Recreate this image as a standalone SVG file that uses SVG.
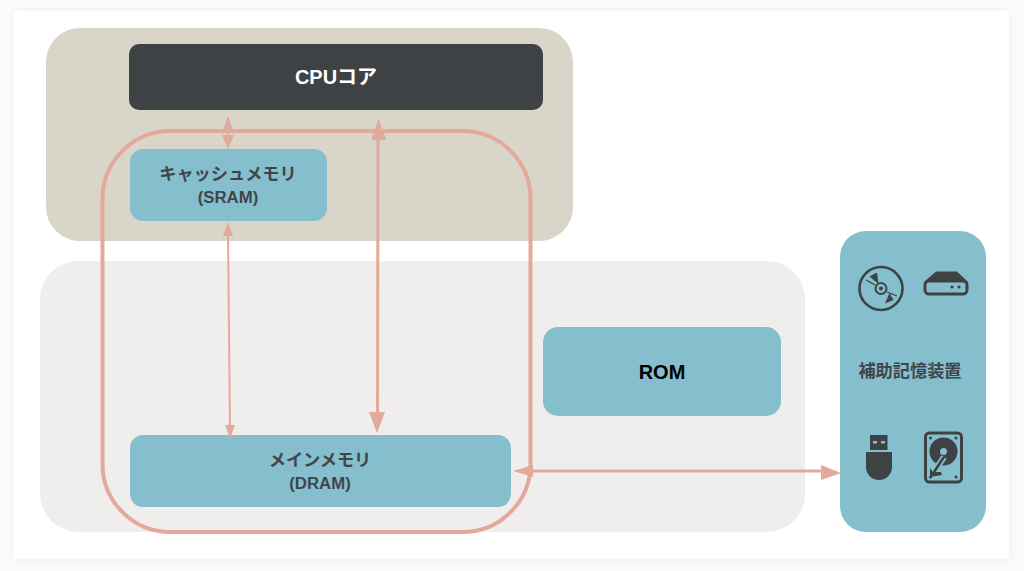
<svg xmlns="http://www.w3.org/2000/svg" width="1024" height="571" viewBox="0 0 1024 571">
<defs>
<filter id="sh" x="-5%" y="-5%" width="110%" height="110%"><feGaussianBlur stdDeviation="3"/></filter>
</defs>
<style>
.n{fill:#85bfcd}
.t{font-family:"Liberation Sans","Noto Sans CJK JP",sans-serif;font-weight:700;text-anchor:middle;fill:#414549}
.c{stroke:#e3a99c;fill:none}
.h{fill:#e3a99c}
.i{fill:#3e4245}
.is{fill:none;stroke:#3e4245}
</style>
<rect width="1024" height="571" fill="#fafafa"/>
<rect x="14" y="11" width="995" height="548" fill="#eeeeee" filter="url(#sh)"/>
<rect x="14" y="11" width="995" height="548" fill="#ffffff"/>
<g id="cpu-area"><rect x="46" y="28" width="527" height="213" rx="34" fill="#d9d5c9"/></g>
<g id="memory-area"><rect x="40" y="261" width="765" height="271" rx="38" fill="#f0eeec"/></g>
<g id="cpu"><rect x="129" y="44" width="414" height="66" rx="10" fill="#3e4245"/>
<text class="t" x="336" y="84" font-size="20" style="fill:#fff">CPUコア</text></g>
<g id="sram"><rect class="n" x="130" y="149" width="197" height="72" rx="13"/>
<text class="t" x="228" y="180" font-size="17.2">キャッシュメモリ</text>
<text class="t" x="228" y="203" font-size="16.8">(SRAM)</text></g>
<g id="dram"><rect class="n" x="130" y="435" width="381" height="72" rx="13"/>
<text class="t" x="320" y="466" font-size="17.2">メインメモリ</text>
<text class="t" x="320" y="489" font-size="16.8">(DRAM)</text></g>
<g id="rom"><rect class="n" x="543" y="327" width="238" height="89" rx="15"/>
<text class="t" x="662" y="379" font-size="20" style="fill:#000">ROM</text></g>
<g id="storage"><rect class="n" x="840" y="231" width="146" height="301" rx="26"/>
<text class="t" x="910" y="377" font-size="17.2">補助記憶装置</text>
<g id="disc">
<circle class="is" cx="881" cy="288.500" r="21.500" stroke-width="2.600"/>
<circle class="is" cx="881" cy="288.500" r="5.500" stroke-width="2"/>
<circle class="i" cx="881" cy="288.500" r="2"/>
<path class="i" d="M869.500 276.500l7.500-4 1.500 11.500zM889.500 293l-4.500 10.500 8.500-3.500z"/>
<path class="is" stroke-width="1.300" d="M866 280l9 5M887 292l10 4"/>
</g>
<g id="drive">
<path class="i" d="M924 282l12-10.500h21l11 10.500z"/>
<rect class="is" x="925" y="281" width="42" height="13" rx="4" stroke-width="3"/>
<circle class="i" cx="952" cy="287" r="1.600"/><circle class="i" cx="959" cy="287" r="1.600"/>
</g>
<g id="usb">
<path class="i" d="M866 452h26v15a13 13 0 0 1-26 0z"/>
<rect class="i" x="870" y="435" width="17.500" height="15"/>
<rect x="873" y="441" width="4" height="2.500" fill="#85bfcd"/><rect x="881" y="441" width="4" height="2.500" fill="#85bfcd"/>
</g>
<g id="hdd">
<rect class="is" x="925.500" y="433" width="36" height="49" rx="4" stroke-width="3"/>
<circle class="i" cx="943.500" cy="451.500" r="14"/>
<circle cx="943.500" cy="451.500" r="3.500" fill="#85bfcd"/>
<path stroke="#85bfcd" stroke-width="6" d="M944 457l-10 15"/>
<path stroke="#3e4245" stroke-width="2.600" d="M944 457l-10 15"/>
<path class="i" d="M930 468l3 4h8l1 3-12 2z"/>
<circle class="i" cx="930.500" cy="438" r="1.500"/><circle class="i" cx="956" cy="438" r="1.500"/>
<circle class="i" cx="930.500" cy="477" r="1.500"/><circle class="i" cx="956" cy="477" r="1.500"/>
</g>
</g>
<g id="connectors">
<rect class="c" x="102.500" y="131" width="428" height="401" rx="68" stroke-width="4"/>
<path class="c" stroke-width="2" d="M228 128v10"/>
<path class="h" d="M228 115.500l5 15.500h-10zM228 149l-6-14h12z"/>
<path class="c" stroke-width="2" d="M228 232L230 428"/>
<path class="h" d="M228 222l5 14h-10zM230 439l-5-14h10z"/>
<path class="c" stroke-width="3" d="M378 135L377.500 415"/>
<path class="h" d="M378.500 119l8 21h-15.500zM377 433l-8-21h16z"/>
<path class="c" stroke-width="3" d="M525 471H825"/>
<path class="h" d="M513 471l20-6v12zM841 473l-20-8v15z"/>
</g>
</svg>
